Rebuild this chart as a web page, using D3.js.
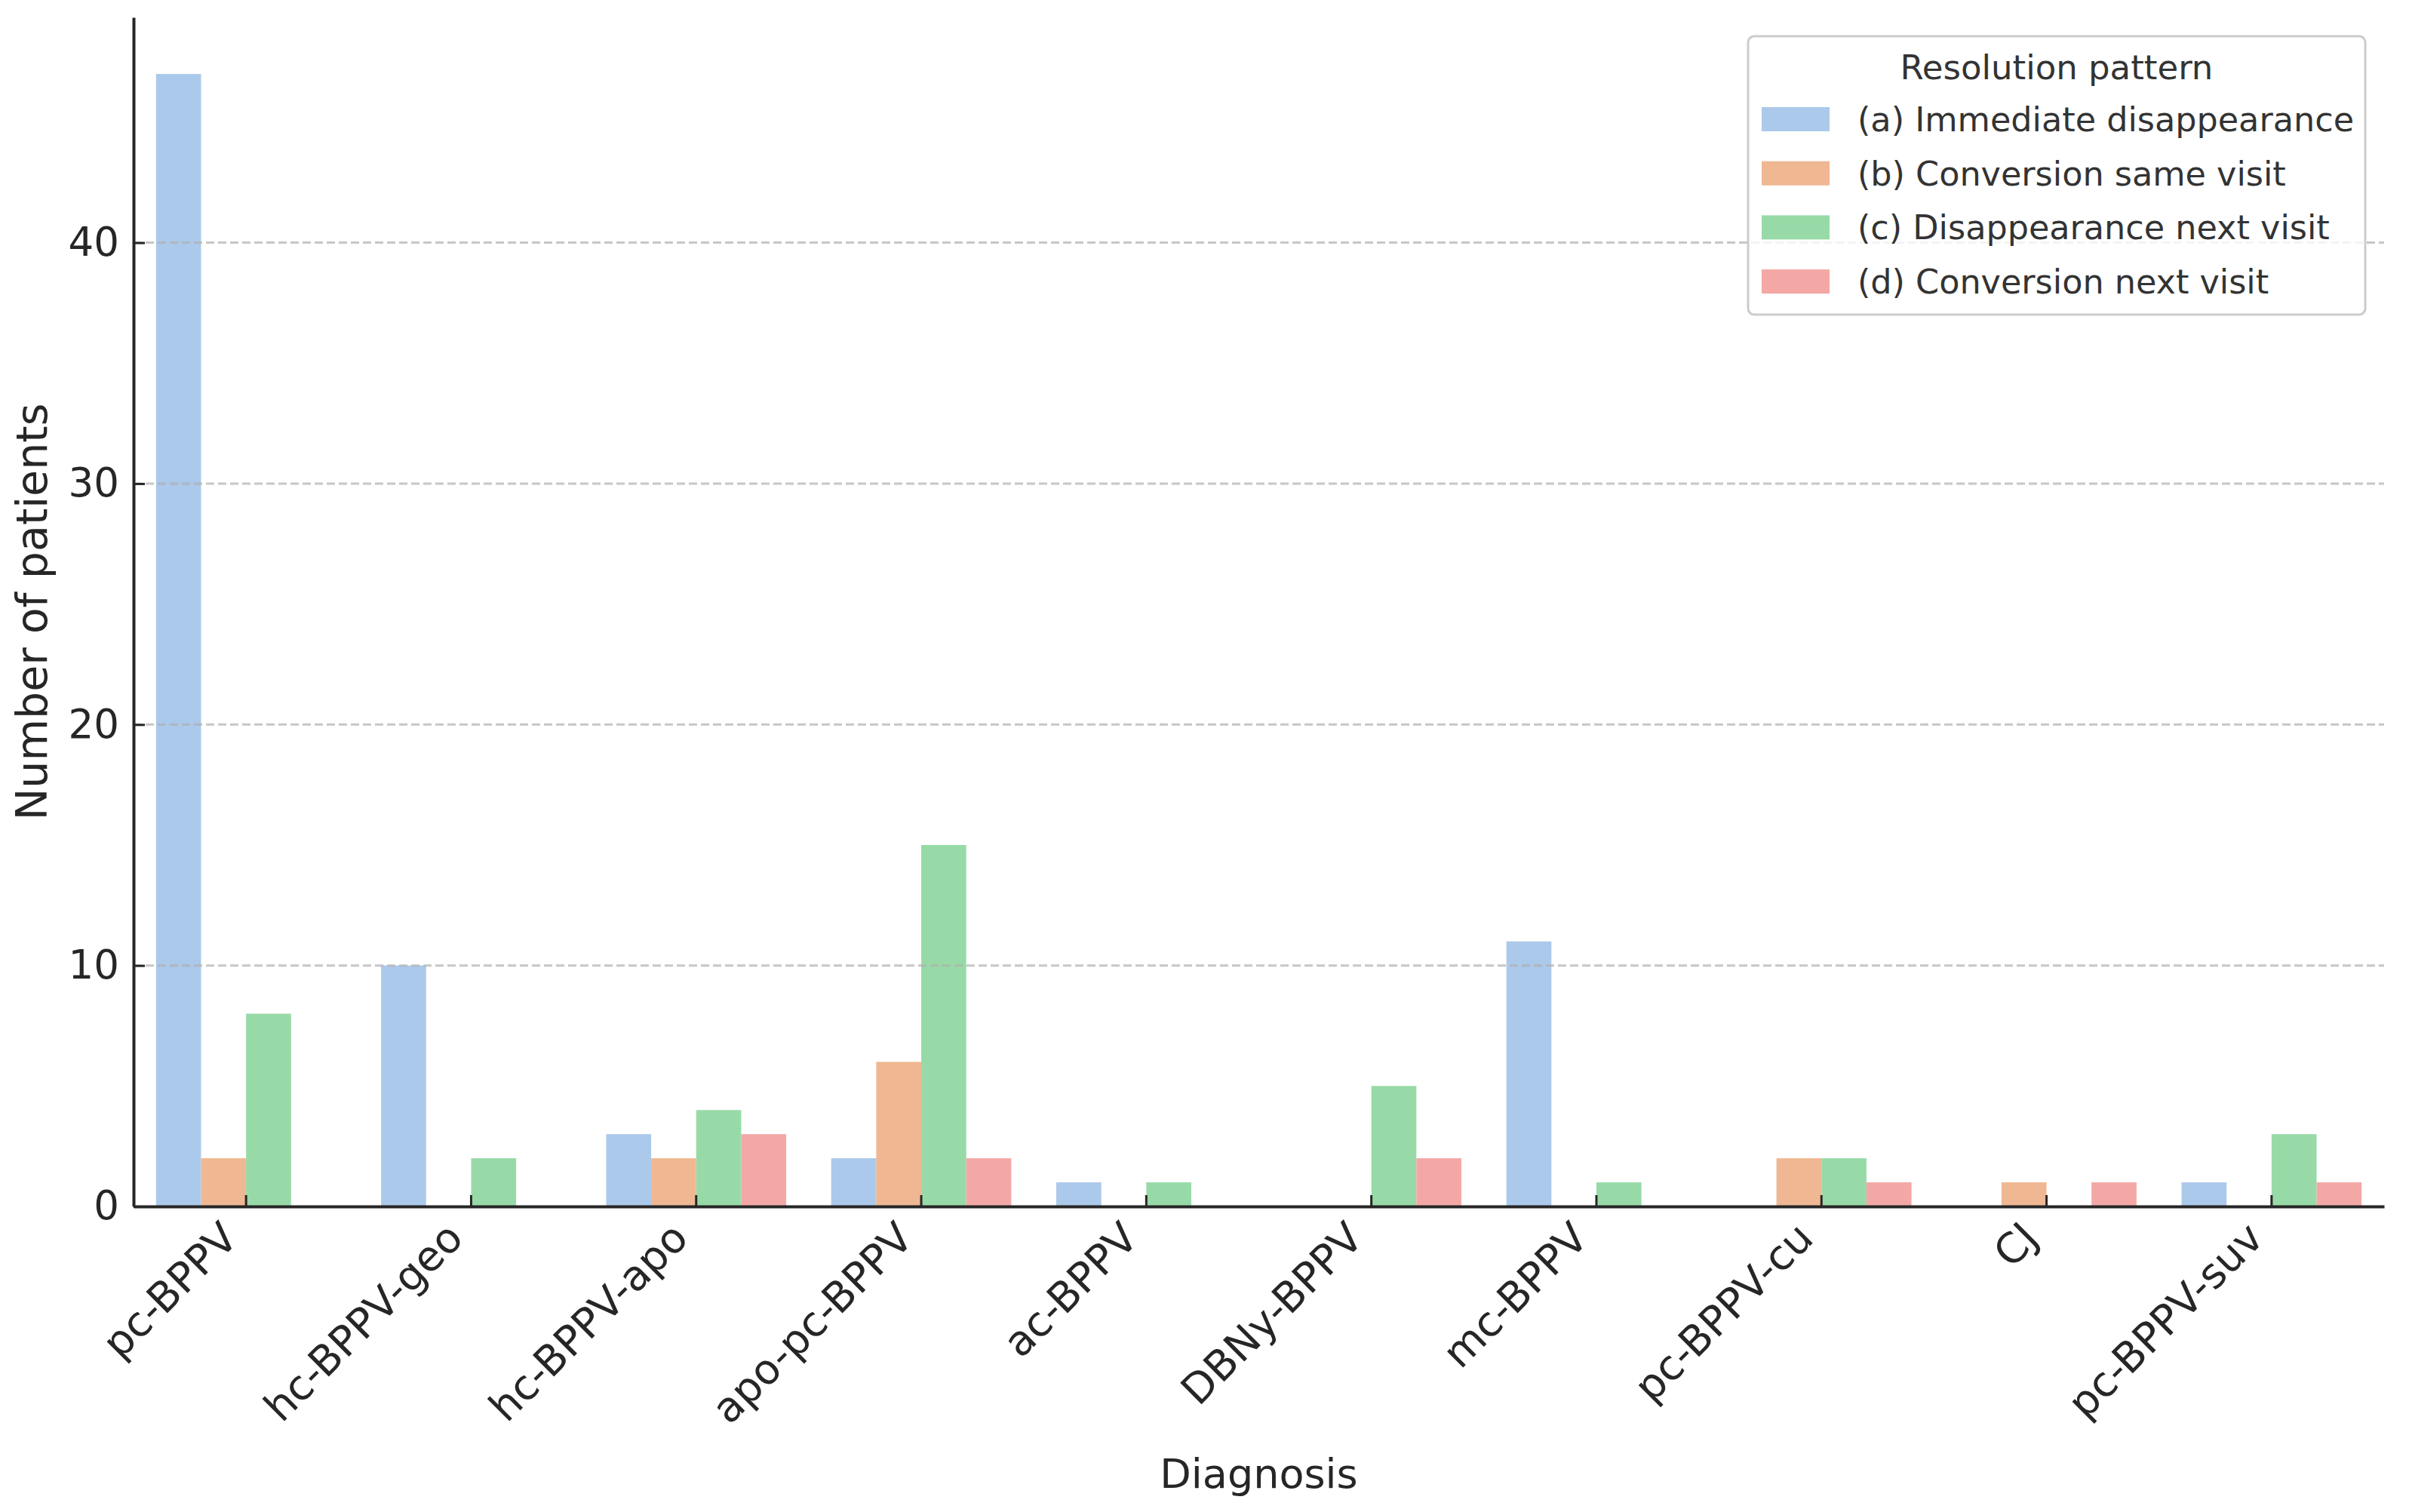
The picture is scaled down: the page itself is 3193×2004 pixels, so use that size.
<html>

<head>
    <title>Resolution pattern by diagnosis</title>
    <style>
        body {
            margin: 0;
            background-color: #ffffff;
        }

        text {
            font-family: "DejaVu Sans", sans-serif;
        }
    </style>
</head>

<body>
    <script src="https://cdn.jsdelivr.net/npm/d3@7"></script>
    <script type="text/javascript">
        var diagnoses = ["pc-BPPV", "hc-BPPV-geo", "hc-BPPV-apo", "apo-pc-BPPV", "ac-BPPV",
            "DBNy-BPPV", "mc-BPPV", "pc-BPPV-cu", "CJ", "pc-BPPV-suv"];
        var patterns = ["(a) Immediate disappearance", "(b) Conversion same visit",
            "(c) Disappearance next visit", "(d) Conversion next visit"];
        var immediate = [47, 10, 3, 2, 1, 0, 11, 0, 0, 1];
        var convSame = [2, 0, 2, 6, 0, 0, 0, 2, 1, 0];
        var disapNext = [8, 2, 4, 15, 1, 5, 1, 2, 0, 3];
        var convNext = [0, 0, 3, 2, 0, 2, 0, 1, 1, 1];
        var yTicks = [0, 10, 20, 30, 40];
        var colors = ["#abc9ea", "#efb792", "#98daa7", "#f3a8a6"];

        var width = 3193;
        var height = 2004;
        var plotLeft = 177, plotRight = 3160, plotTop = 23, plotBottom = 1599;
        var ink = "#262626";

        var svg = d3.select("body")
            .append("svg")
            .attr("width", width)
            .attr("height", height);

        // one row per bar
        var series = [immediate, convSame, disapNext, convNext];
        var rows = [];
        diagnoses.forEach(function (d, i) {
            patterns.forEach(function (p, j) {
                rows.push({ diagnosis: d, pattern: p, value: series[j][i], k: j });
            });
        });

        var x = d3.scaleBand()
            .domain(diagnoses)
            .range([plotLeft, plotRight])
            .paddingInner(0.2)
            .paddingOuter(0.1);
        var xSub = d3.scaleBand()
            .domain(patterns)
            .range([0, x.bandwidth()]);
        var y = d3.scaleLinear()
            .domain([0, 47 * 1.05])
            .range([plotBottom, plotTop]);

        svg.selectAll(".bar")
            .data(rows)
            .enter()
            .append("rect")
            .attr("class", "bar")
            .attr("x", d => x(d.diagnosis) + xSub(d.pattern))
            .attr("y", d => y(d.value))
            .attr("width", xSub.bandwidth())
            .attr("height", d => y(0) - y(d.value))
            .attr("fill", d => colors[d.k]);

        //网格线
        svg.selectAll(".grid")
            .data(yTicks.filter(t => t > 0))
            .enter()
            .append("line")
            .attr("class", "grid")
            .attr("x1", plotLeft)
            .attr("x2", plotRight)
            .attr("y1", d => y(d))
            .attr("y2", d => y(d))
            .style("stroke", "#b0b0b0")
            .style("opacity", 0.7)
            .style("stroke-width", 3)
            .style("stroke-dasharray", "11,5");

        var yAxis = svg.append("g")
            .attr("transform", "translate(" + plotLeft + ",0)")
            .call(d3.axisLeft(y).tickValues(yTicks).tickSizeInner(-15).tickSizeOuter(0).tickPadding(19));
        var xAxis = svg.append("g")
            .attr("transform", "translate(0," + plotBottom + ")")
            .call(d3.axisBottom(x).tickSizeInner(-15).tickSizeOuter(0));

        [yAxis, xAxis].forEach(function (g) {
            g.attr("font-family", null).attr("font-size", null);
            g.select(".domain").style("stroke", ink).style("stroke-width", 4);
            g.selectAll(".tick line").style("stroke", ink).style("stroke-width", 3);
            g.selectAll(".tick text").style("fill", ink);
        });
        yAxis.selectAll(".tick text").style("font-size", "53px");

        xAxis.selectAll(".tick text")
            .attr("x", 0)
            .attr("y", 0)
            .attr("dy", null)
            .attr("text-anchor", "end")
            .attr("transform", "translate(-8,45) rotate(-45)")
            .style("font-size", "55px");

        svg.append("text")
            .attr("transform", "translate(62," + (plotTop + plotBottom) / 2 + ") rotate(-90)")
            .attr("text-anchor", "middle")
            .style("fill", ink)
            .style("font-size", "57px")
            .text("Number of patients");

        svg.append("text")
            .attr("x", (plotLeft + plotRight) / 2)
            .attr("y", 1972)
            .attr("text-anchor", "middle")
            .style("fill", ink)
            .style("font-size", "54px")
            .text("Diagnosis");

        //图例
        var legend = svg.append("g").attr("transform", "translate(2317,48)");
        legend.append("rect")
            .attr("width", 818)
            .attr("height", 369)
            .attr("rx", 8)
            .style("fill", "white")
            .style("fill-opacity", 0.8)
            .style("stroke", "#cccccc")
            .style("stroke-width", 3);
        legend.append("text")
            .attr("x", 409)
            .attr("y", 57)
            .attr("text-anchor", "middle")
            .style("fill", "#333333")
            .style("font-size", "45px")
            .text("Resolution pattern");
        var items = legend.selectAll(".item")
            .data(patterns)
            .enter()
            .append("g")
            .attr("class", "item")
            .attr("transform", (d, i) => "translate(0," + (110 + i * 71.7) + ")");
        items.append("rect")
            .attr("x", 18)
            .attr("y", -16)
            .attr("width", 90)
            .attr("height", 32)
            .attr("fill", (d, i) => colors[i]);
        items.append("text")
            .attr("x", 145)
            .attr("y", 16)
            .style("fill", "#333333")
            .style("font-size", "44.5px")
            .text(d => d);
    </script>

</body>

</html>
